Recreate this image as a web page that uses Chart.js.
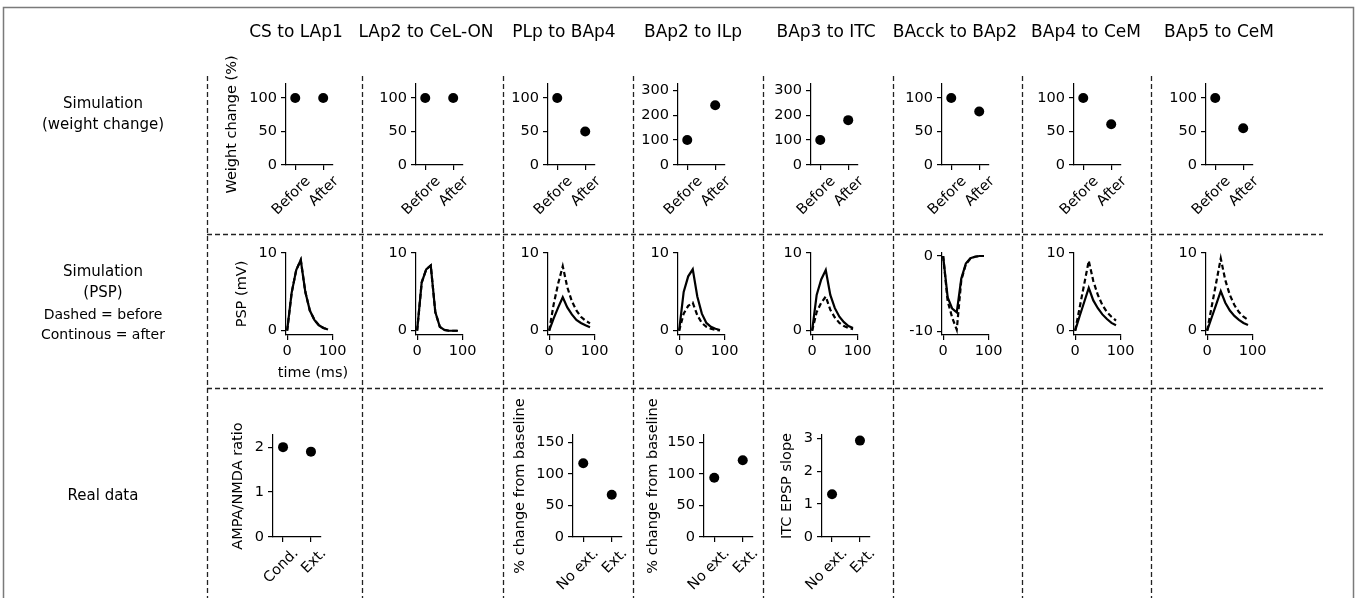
<!DOCTYPE html>
<html>
<head>
<meta charset="utf-8">
<script src="https://cdn.jsdelivr.net/npm/chart.js@4.4.0/dist/chart.umd.min.js"></script>
<style>
    body { margin: 0; background: #fff; width: 1357px; height: 598px; overflow: hidden; position: relative; font-family: 'DejaVu Sans', sans-serif; }
    .lbl { position: absolute; transform: translate(-50%, -50%); white-space: nowrap; color: #000; }
    canvas.panel { position: absolute; }
    #frame { position: absolute; left: 0; top: 0; }
</style>
</head>
<body>
<canvas id="frame" width="1357" height="598"></canvas>
<script>
// ---- data ----
const columnTitles = ['CS to LAp1', 'LAp2 to CeL-ON', 'PLp to BAp4', 'BAp2 to ILp', 'BAp3 to ITC', 'BAcck to BAp2', 'BAp4 to CeM', 'BAp5 to CeM'];

// row 1: simulated weight change (%)
const phaseLabels = ['Before', 'After'];
const weightBefore = [100, 100, 100, 100, 100, 100, 100, 100];
const weightAfter = [100, 100, 50, 240, 180, 80, 61, 55];

// row 2: simulated PSP (mV), dashed = before, solid = after
const timeMs = [0, 10, 20, 30, 40, 50, 60, 70, 80, 90];
const pspBefore = [
    [0, 4.9, 7.8, 9.1, 5.0, 2.6, 1.4, 0.7, 0.35, 0.15],
    [0, 6.2, 7.9, 8.4, 2.4, 0.5, 0.1, 0, 0, 0],
    [0, 3.4, 6.1, 8.3, 5.6, 3.8, 2.6, 1.8, 1.3, 0.95],
    [0, 2.2, 3.2, 3.6, 2.0, 1.0, 0.5, 0.25, 0.1, 0.05],
    [0, 2.4, 3.6, 4.4, 2.7, 1.7, 1.0, 0.6, 0.35, 0.2],
    [0, -6.0, -8.2, -9.8, -3.2, -1.1, -0.35, -0.1, 0, 0],
    [0, 3.0, 6.0, 9.0, 6.4, 4.6, 3.3, 2.4, 1.8, 1.3],
    [0, 3.1, 6.2, 9.3, 6.5, 4.6, 3.3, 2.4, 1.8, 1.4]
];
const pspAfter = [
    [0, 4.9, 7.8, 9.1, 5.0, 2.6, 1.4, 0.7, 0.35, 0.15],
    [0, 6.2, 7.9, 8.4, 2.4, 0.5, 0.1, 0, 0, 0],
    [0, 1.6, 3.0, 4.3, 3.0, 2.1, 1.4, 1.0, 0.7, 0.45],
    [0, 5.0, 7.0, 7.9, 4.4, 2.2, 1.0, 0.5, 0.25, 0.1],
    [0, 4.6, 6.6, 7.8, 4.6, 2.9, 1.8, 1.1, 0.6, 0.35],
    [0, -5.5, -7.0, -7.5, -3.0, -1.0, -0.3, -0.1, 0, 0],
    [0, 1.9, 3.7, 5.5, 3.9, 2.9, 2.1, 1.5, 1.0, 0.7],
    [0, 1.7, 3.4, 5.1, 3.6, 2.6, 1.9, 1.4, 1.0, 0.75]
];

// row 3: real data
const ampaNmdaLabels = ['Cond.', 'Ext.'];
const ampaNmdaRatio = [2.0, 1.9];
const extLabels = ['No ext.', 'Ext.'];
const plpBaselineChange = [117, 67];
const bap2BaselineChange = [94, 122];
const itcEpspSlope = [1.3, 2.93];

// ---- layout ----
const colAxisLeft = [286, 416, 548, 678, 811, 942, 1074, 1206];
const titleCenters = [296, 426, 564, 693, 826, 955, 1086, 1219];
const separatorsX = [207, 362, 503, 633, 763, 893, 1022, 1151];
const separatorsY = [234, 388];

const Y_W = 75, PAD_T = 45, PAD_R = 32, X_H = 65;
const FONT = 'DejaVu Sans';
const TICK_SIZE = 14.5;

Chart.defaults.font.family = FONT;
Chart.defaults.color = '#000';

function addText(text, x, y, size) {
    const d = document.createElement('div');
    d.className = 'lbl';
    d.textContent = text;
    d.style.left = x + 'px';
    d.style.top = y + 'px';
    d.style.fontSize = size + 'px';
    document.body.appendChild(d);
}

function pointsSet(values) {
    return {
        data: values.map((v, i) => ({ x: i, y: v })),
        showLine: false,
        pointRadius: 5,
        pointBackgroundColor: '#000',
        pointBorderColor: '#000',
        pointBorderWidth: 0,
        clip: false
    };
}

function traceSet(values, dashed) {
    return {
        data: timeMs.map((t, i) => ({ x: t, y: values[i] })),
        borderColor: '#000',
        borderWidth: 2.2,
        borderDash: dashed ? [5, 3] : [],
        pointRadius: 0,
        tension: 0,
        fill: false,
        clip: false
    };
}

function addPanel(cfg) {
    const c = document.createElement('canvas');
    c.className = 'panel';
    c.width = Y_W + cfg.w + PAD_R;
    c.height = PAD_T + cfg.h + X_H;
    c.style.left = (cfg.x - Y_W) + 'px';
    c.style.top = (cfg.y - PAD_T) + 'px';
    document.body.appendChild(c);

    const grid = { display: true, drawOnChartArea: false, drawTicks: true, tickLength: 5, color: '#000', lineWidth: 1.2 };
    const border = { display: true, color: '#000', width: 1.2 };
    const rotated = !!cfg.xLabels;

    new Chart(c, {
        type: 'line',
        data: { datasets: cfg.datasets },
        options: {
            responsive: false,
            animation: false,
            devicePixelRatio: 1,
            layout: { padding: { top: PAD_T, right: PAD_R, left: 0, bottom: 0 } },
            plugins: { legend: { display: false }, tooltip: { enabled: false } },
            scales: {
                x: {
                    type: 'linear',
                    min: cfg.xMin,
                    max: cfg.xMax,
                    afterBuildTicks: (s) => { s.ticks = cfg.xTicks.map((v) => ({ value: v })); },
                    afterFit: (s) => { s.height = X_H; },
                    grid: grid,
                    border: border,
                    ticks: {
                        autoSkip: false,
                        font: { size: TICK_SIZE },
                        padding: 3,
                        minRotation: rotated ? 45 : 0,
                        maxRotation: rotated ? 45 : 0,
                        // push rotated labels right so they sit centred under the tick
                        labelOffset: rotated ? 13 : 0,
                        callback: (v) => (rotated ? cfg.xLabels[v] : String(v))
                    }
                },
                y: {
                    type: 'linear',
                    min: cfg.yMin,
                    max: cfg.yMax,
                    afterBuildTicks: (s) => { s.ticks = cfg.yTicks.map((v) => ({ value: v })); },
                    afterFit: (s) => { s.width = Y_W; },
                    grid: grid,
                    border: border,
                    ticks: {
                        font: { size: TICK_SIZE },
                        padding: 4,
                        callback: (v) => String(v)
                    },
                    title: {
                        display: !!cfg.yTitle,
                        text: cfg.yTitle || '',
                        font: { size: TICK_SIZE, lineHeight: 1.2 },
                        padding: { top: Y_W - (cfg.yGap || 0) - TICK_SIZE * 0.6, bottom: 0 }
                    }
                }
            }
        }
    });
}

// ---- frame: border and dashed separators ----
const fctx = document.getElementById('frame').getContext('2d');
fctx.strokeStyle = '#7a7a7a';
fctx.lineWidth = 1.5;
fctx.strokeRect(3.5, 7.5, 1350, 600);
fctx.strokeStyle = '#222';
fctx.lineWidth = 1.3;
fctx.setLineDash([5, 3]);
separatorsX.forEach((x) => {
    fctx.beginPath();
    fctx.moveTo(x + 0.5, 76);
    fctx.lineTo(x + 0.5, 598);
    fctx.stroke();
});
separatorsY.forEach((y) => {
    fctx.beginPath();
    fctx.moveTo(207, y + 0.5);
    fctx.lineTo(1323, y + 0.5);
    fctx.stroke();
});

// ---- texts ----
columnTitles.forEach((t, i) => addText(t, titleCenters[i], 31, 17));
addText('Simulation', 103, 103, 15);
addText('(weight change)', 103, 124, 15);
addText('Simulation', 103, 271, 15);
addText('(PSP)', 103, 292, 15);
addText('Dashed = before', 103, 314, 14);
addText('Continous = after', 103, 334, 14);
addText('Real data', 103, 495, 15);
addText('time (ms)', 313, 372, TICK_SIZE);

// ---- row 1: weight change ----
colAxisLeft.forEach((x, i) => {
    const big = weightAfter[i] > 150;
    addPanel({
        x: x, y: 84, w: 47, h: 81,
        xMin: -0.33, xMax: 1.35, xTicks: [0, 1], xLabels: phaseLabels,
        yMin: 0, yMax: big ? 325 : 121, yTicks: big ? [0, 100, 200, 300] : [0, 50, 100],
        yTitle: i === 0 ? 'Weight change (%)' : null, yGap: 54,
        datasets: [pointsSet([weightBefore[i], weightAfter[i]])]
    });
});

// ---- row 2: PSP traces ----
colAxisLeft.forEach((x, i) => {
    const neg = Math.min.apply(null, pspBefore[i]) < 0;
    addPanel({
        x: x, y: 253, w: 47, h: 82,
        xMin: -2.5, xMax: 101, xTicks: [0, 100],
        yMin: neg ? -10.5 : -0.55, yMax: neg ? 0.4 : 10, yTicks: neg ? [-10, 0] : [0, 10],
        yTitle: i === 0 ? 'PSP (mV)' : null, yGap: 44,
        datasets: [traceSet(pspBefore[i], true), traceSet(pspAfter[i], false)]
    });
});

// ---- row 3: real data ----
addPanel({
    x: 273, y: 435, w: 48, h: 102,
    xMin: -0.36, xMax: 1.36, xTicks: [0, 1], xLabels: ampaNmdaLabels,
    yMin: 0, yMax: 2.27, yTicks: [0, 1, 2],
    yTitle: 'AMPA/NMDA ratio', yGap: 35,
    datasets: [pointsSet(ampaNmdaRatio)]
});
addPanel({
    x: 573, y: 435, w: 49, h: 102,
    xMin: -0.36, xMax: 1.36, xTicks: [0, 1], xLabels: extLabels,
    yMin: 0, yMax: 162, yTicks: [0, 50, 100, 150],
    yTitle: '% change from baseline', yGap: 53,
    datasets: [pointsSet(plpBaselineChange)]
});
addPanel({
    x: 704, y: 435, w: 49, h: 102,
    xMin: -0.36, xMax: 1.36, xTicks: [0, 1], xLabels: extLabels,
    yMin: 0, yMax: 162, yTicks: [0, 50, 100, 150],
    yTitle: '% change from baseline', yGap: 51,
    datasets: [pointsSet(bap2BaselineChange)]
});
addPanel({
    x: 822, y: 435, w: 48, h: 102,
    xMin: -0.36, xMax: 1.36, xTicks: [0, 1], xLabels: extLabels,
    yMin: 0, yMax: 3.1, yTicks: [0, 1, 2, 3],
    yTitle: 'ITC EPSP slope', yGap: 35,
    datasets: [pointsSet(itcEpspSlope)]
});
</script>
</body>
</html>
